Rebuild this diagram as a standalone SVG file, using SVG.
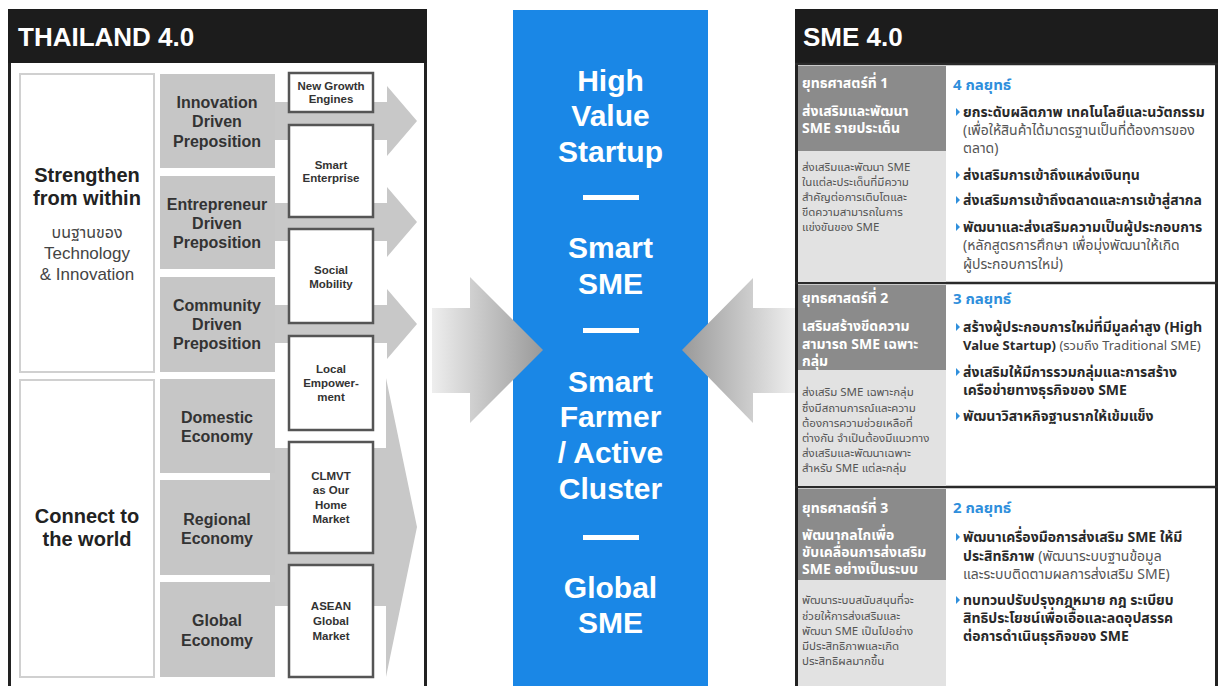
<svg xmlns="http://www.w3.org/2000/svg" width="1221" height="686" viewBox="0 0 1221 686">
<style>
.hdr{font-family:"Liberation Sans",sans-serif;font-weight:bold;font-size:26px;fill:#fff}
.gb{font-family:"Liberation Sans",sans-serif;font-weight:bold;font-size:16px;fill:#333;text-anchor:middle}
.wb{font-family:"Liberation Sans",sans-serif;font-weight:bold;font-size:11.5px;fill:#333;text-anchor:middle}
.big{font-family:"Liberation Sans",sans-serif;font-weight:bold;font-size:20px;fill:#222;text-anchor:middle}
.sub{font-family:"Liberation Sans",sans-serif;font-size:17px;fill:#444;text-anchor:middle}
.subth{font-family:"Noto Sans Thai UI","Noto Sans Thai","Liberation Sans",sans-serif;font-size:16px;fill:#444;text-anchor:middle}
.mid{font-family:"Liberation Sans",sans-serif;font-weight:bold;font-size:30px;fill:#fff;text-anchor:middle}
.dk{font-family:"Noto Sans Thai UI","Noto Sans Thai","Liberation Sans",sans-serif;font-weight:bold;font-size:14px;fill:#fff}
.lt{font-family:"Noto Sans Thai UI","Noto Sans Thai","Liberation Sans",sans-serif;font-size:11.5px;fill:#555}
.bl{font-family:"Noto Sans Thai UI","Noto Sans Thai","Liberation Sans",sans-serif;font-weight:bold;font-size:15px;fill:#2f8fdc}
.rb{font-family:"Noto Sans Thai UI","Noto Sans Thai","Liberation Sans",sans-serif;font-weight:bold;font-size:14px;fill:#2a2a2a}
.rr{font-weight:normal;fill:#555}
.sm{font-size:13px}
.gbox{fill:#c6c6c6}
.wbox{fill:#fff;stroke:#555;stroke-width:2.5}
.lbox{fill:#fff;stroke:#d0d0d0;stroke-width:2}
.arr{fill:#c8c8c8}
.dash{fill:#fff}
.dcell{fill:#8b8b8b}
.lcell{fill:#e2e2e2}
.div{stroke:#2a2a2a;stroke-width:2.5}
</style>
<defs>
<linearGradient id="gl" x1="432" y1="0" x2="543" y2="0" gradientUnits="userSpaceOnUse">
<stop offset="0" stop-color="#eeeeee"/><stop offset="1" stop-color="#999999"/>
</linearGradient>
<linearGradient id="gr" x1="682" y1="0" x2="797" y2="0" gradientUnits="userSpaceOnUse">
<stop offset="0" stop-color="#999999"/><stop offset="1" stop-color="#f0f0f0"/>
</linearGradient>
<path id="bul" d="M0,-4 L4,0 L0,4 Z" fill="#2f8fdc"/>
</defs>
<rect width="1221" height="686" fill="#fff"/>

<!-- LEFT PANEL FRAME -->
<g id="thailand-panel">
<rect x="9.5" y="10.5" width="416" height="690" fill="#fff" stroke="#222" stroke-width="3"/>
<rect x="8" y="9" width="419" height="54" fill="#1c1c1c"/>
<text x="18" y="46" class="hdr">THAILAND 4.0</text>
</g>

<!-- MIDDLE COLUMN -->
<g id="sme-targets">
<rect x="513" y="10" width="195" height="680" fill="#1a87e6"/>
<text class="mid" x="610.5" y="91">High</text>
<text class="mid" x="610.5" y="126">Value</text>
<text class="mid" x="610.5" y="162">Startup</text>
<rect class="dash" x="583" y="195" width="56" height="5"/>
<text class="mid" x="610.5" y="258">Smart</text>
<text class="mid" x="610.5" y="294">SME</text>
<rect class="dash" x="583" y="328" width="56" height="5"/>
<text class="mid" x="610.5" y="392">Smart</text>
<text class="mid" x="610.5" y="427">Farmer</text>
<text class="mid" x="610.5" y="463">/ Active</text>
<text class="mid" x="610.5" y="499">Cluster</text>
<rect class="dash" x="583" y="535" width="56" height="5"/>
<text class="mid" x="610.5" y="598">Global</text>
<text class="mid" x="610.5" y="633">SME</text>
</g>

<g id="connectors">
<polygon class="arr" points="270,102 387,102 387,86 417,121 387,156 387,140 270,140"/>
<polygon class="arr" points="270,203 387,203 387,187 417,222 387,257 387,241 270,241"/>
<polygon class="arr" points="270,305 387,305 387,289 417,324 387,359 387,343 270,343"/>
<polygon class="arr" points="270,448 386,448 386,378 417,527 386,677 386,606 270,606"/>
<polygon fill="url(#gl)" points="432,308 470,308 470,277 543,350 470,423 470,393 432,393"/>
<polygon fill="url(#gr)" points="797,308 753,308 753,278 682,350 753,423 753,393 797,393"/>
</g>

<g id="strengthen">
<rect class="lbox" x="20" y="74" width="134" height="298"/>
<text class="big" x="87" y="182">Strengthen</text>
<text class="big" x="87" y="205">from within</text>
<text class="subth" x="87" y="238">บนฐานของ</text>
<text class="sub" x="87" y="259">Technology</text>
<text class="sub" x="87" y="280">&amp; Innovation</text>
</g>
<g id="connect">
<rect class="lbox" x="20" y="380" width="134" height="297"/>
<text class="big" x="87" y="523">Connect to</text>
<text class="big" x="87" y="546">the world</text>
</g>

<g id="innovation"><rect class="gbox" x="160" y="74" width="115" height="94"/>
<text class="gb" x="217" y="108">Innovation</text><text class="gb" x="217" y="127">Driven</text><text class="gb" x="217" y="147">Preposition</text></g>
<g id="entrepreneur"><rect class="gbox" x="160" y="176" width="115" height="93"/>
<text class="gb" x="217" y="210">Entrepreneur</text><text class="gb" x="217" y="229">Driven</text><text class="gb" x="217" y="248">Preposition</text></g>
<g id="community"><rect class="gbox" x="160" y="277" width="115" height="95"/>
<text class="gb" x="217" y="311">Community</text><text class="gb" x="217" y="330">Driven</text><text class="gb" x="217" y="349">Preposition</text></g>
<g id="domestic"><rect class="gbox" x="160" y="379" width="115" height="94"/>
<text class="gb" x="217" y="423">Domestic</text><text class="gb" x="217" y="442">Economy</text></g>
<g id="regional"><rect class="gbox" x="160" y="480" width="115" height="95"/>
<text class="gb" x="217" y="525">Regional</text><text class="gb" x="217" y="544">Economy</text></g>
<g id="global"><rect class="gbox" x="160" y="582" width="115" height="95"/>
<text class="gb" x="217" y="626">Global</text><text class="gb" x="217" y="646">Economy</text></g>

<g id="new-growth"><rect class="wbox" x="289" y="73" width="84" height="39"/>
<text class="wb" x="331" y="90">New Growth</text><text class="wb" x="331" y="103">Engines</text></g>
<g id="smart-enterprise"><rect class="wbox" x="289" y="125" width="84" height="92"/>
<text class="wb" x="331" y="169">Smart</text><text class="wb" x="331" y="182">Enterprise</text></g>
<g id="social-mobility"><rect class="wbox" x="289" y="229" width="84" height="94"/>
<text class="wb" x="331" y="274">Social</text><text class="wb" x="331" y="288">Mobility</text></g>
<g id="local-empowerment"><rect class="wbox" x="289" y="336" width="84" height="94"/>
<text class="wb" x="331" y="373">Local</text><text class="wb" x="331" y="387">Empower-</text><text class="wb" x="331" y="401">ment</text></g>
<g id="clmvt"><rect class="wbox" x="289" y="442" width="84" height="111"/>
<text class="wb" x="331" y="480">CLMVT</text><text class="wb" x="331" y="494">as Our</text><text class="wb" x="331" y="509">Home</text><text class="wb" x="331" y="523">Market</text></g>
<g id="asean"><rect class="wbox" x="289" y="565" width="84" height="112"/>
<text class="wb" x="331" y="610">ASEAN</text><text class="wb" x="331" y="625">Global</text><text class="wb" x="331" y="640">Market</text></g>

<!-- RIGHT PANEL -->
<g id="sme-panel">
<rect x="796.5" y="10.5" width="420" height="690" fill="#fff" stroke="#222" stroke-width="3"/>
<rect x="795" y="9" width="423" height="54" fill="#1c1c1c"/>
<text x="803" y="46" class="hdr">SME 4.0</text>
<line class="div" x1="795" y1="64" x2="1218" y2="64"/>
<line class="div" x1="795" y1="283" x2="1218" y2="283"/>
<line class="div" x1="795" y1="487" x2="1218" y2="487"/>
</g>

<g id="strategy-1">
<rect class="dcell" x="798" y="66" width="148" height="85"/>
<rect class="lcell" x="798" y="151" width="148" height="131"/>
<text class="dk" x="802" y="88">ยุทธศาสตร์ที่ 1</text>
<text class="dk" x="802" y="116">ส่งเสริมและพัฒนา</text>
<text class="dk" x="802" y="133">SME รายประเด็น</text>
<text class="lt" x="802" y="171">ส่งเสริมและพัฒนา SME</text>
<text class="lt" x="802" y="186">ในแต่ละประเด็นที่มีความ</text>
<text class="lt" x="802" y="201">สำคัญต่อการเติบโตและ</text>
<text class="lt" x="802" y="216">ขีดความสามารถในการ</text>
<text class="lt" x="802" y="231">แข่งขันของ SME</text>
<text class="bl" x="953" y="90">4 กลยุทธ์</text>
<use href="#bul" x="956" y="112"/>
<text class="rb" x="963" y="117">ยกระดับผลิตภาพ เทคโนโลยีและนวัตกรรม</text>
<text class="rb rr" x="963" y="135">(เพื่อให้สินค้าได้มาตรฐานเป็นที่ต้องการของ</text>
<text class="rb rr" x="963" y="153">ตลาด)</text>
<use href="#bul" x="956" y="175"/>
<text class="rb" x="963" y="180">ส่งเสริมการเข้าถึงแหล่งเงินทุน</text>
<use href="#bul" x="956" y="200"/>
<text class="rb" x="963" y="205">ส่งเสริมการเข้าถึงตลาดและการเข้าสู่สากล</text>
<use href="#bul" x="956" y="227"/>
<text class="rb" x="963" y="232">พัฒนาและส่งเสริมความเป็นผู้ประกอบการ</text>
<text class="rb rr" x="963" y="250">(หลักสูตรการศึกษา เพื่อมุ่งพัฒนาให้เกิด</text>
<text class="rb rr" x="963" y="269">ผู้ประกอบการใหม่)</text>
</g>

<g id="strategy-2">
<rect class="dcell" x="798" y="285" width="148" height="85"/>
<rect class="lcell" x="798" y="370" width="148" height="116"/>
<text class="dk" x="802" y="303">ยุทธศาสตร์ที่ 2</text>
<text class="dk" x="802" y="331">เสริมสร้างขีดความ</text>
<text class="dk" x="802" y="349">สามารถ SME เฉพาะ</text>
<text class="dk" x="802" y="366">กลุ่ม</text>
<text class="lt" x="802" y="396">ส่งเสริม SME เฉพาะกลุ่ม</text>
<text class="lt" x="802" y="412">ซึ่งมีสถานการณ์และความ</text>
<text class="lt" x="802" y="427">ต้องการความช่วยเหลือที่</text>
<text class="lt" x="802" y="442">ต่างกัน จำเป็นต้องมีแนวทาง</text>
<text class="lt" x="802" y="457">ส่งเสริมและพัฒนาเฉพาะ</text>
<text class="lt" x="802" y="472">สำหรับ SME แต่ละกลุ่ม</text>
<text class="bl" x="953" y="304">3 กลยุทธ์</text>
<use href="#bul" x="956" y="327"/>
<text class="rb" x="963" y="332">สร้างผู้ประกอบการใหม่ที่มีมูลค่าสูง (High</text>
<text class="rb sm" x="963" y="350">Value Startup) <tspan class="rr">(รวมถึง Traditional SME)</tspan></text>
<use href="#bul" x="956" y="372"/>
<text class="rb" x="963" y="377">ส่งเสริมให้มีการรวมกลุ่มและการสร้าง</text>
<text class="rb" x="963" y="395">เครือข่ายทางธุรกิจของ SME</text>
<use href="#bul" x="956" y="416"/>
<text class="rb" x="963" y="421">พัฒนาวิสาหกิจฐานรากให้เข้มแข็ง</text>
</g>

<g id="strategy-3">
<rect class="dcell" x="798" y="489" width="148" height="91"/>
<rect class="lcell" x="798" y="580" width="148" height="106"/>
<text class="dk" x="802" y="513">ยุทธศาสตร์ที่ 3</text>
<text class="dk" x="802" y="540">พัฒนากลไกเพื่อ</text>
<text class="dk" x="802" y="557">ขับเคลื่อนการส่งเสริม</text>
<text class="dk" x="802" y="574">SME อย่างเป็นระบบ</text>
<text class="lt" x="802" y="604">พัฒนาระบบสนับสนุนที่จะ</text>
<text class="lt" x="802" y="620">ช่วยให้การส่งเสริมและ</text>
<text class="lt" x="802" y="635">พัฒนา SME เป็นไปอย่าง</text>
<text class="lt" x="802" y="650">มีประสิทธิภาพและเกิด</text>
<text class="lt" x="802" y="665">ประสิทธิผลมากขึ้น</text>
<text class="bl" x="953" y="513">2 กลยุทธ์</text>
<use href="#bul" x="956" y="537"/>
<text class="rb" x="963" y="542">พัฒนาเครื่องมือการส่งเสริม SME ให้มี</text>
<text class="rb" x="963" y="561">ประสิทธิภาพ <tspan class="rr">(พัฒนาระบบฐานข้อมูล</tspan></text>
<text class="rb rr" x="963" y="579">และระบบติดตามผลการส่งเสริม SME)</text>
<use href="#bul" x="956" y="600"/>
<text class="rb" x="963" y="605">ทบทวนปรับปรุงกฎหมาย กฎ ระเบียบ</text>
<text class="rb" x="963" y="623">สิทธิประโยชน์เพื่อเอื้อและลดอุปสรรค</text>
<text class="rb" x="963" y="641">ต่อการดำเนินธุรกิจของ SME</text>
</g>
</svg>
